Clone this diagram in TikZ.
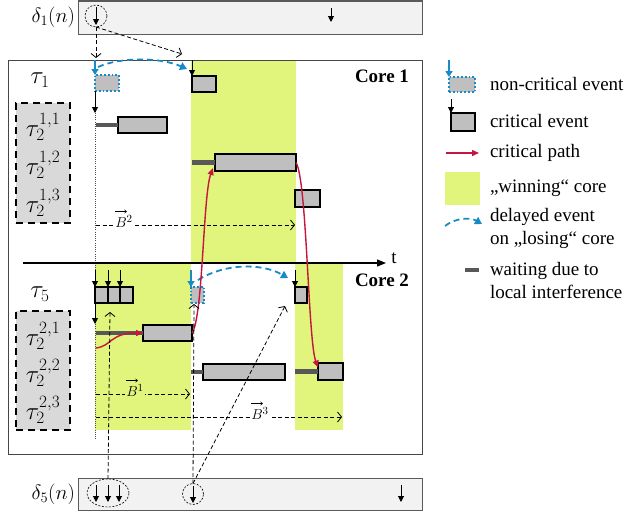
\documentclass[tikz,border=0pt]{standalone}
\usepackage{fontspec}
\setmainfont{Liberation Serif}
\usetikzlibrary{arrows.meta,shapes.geometric}
\definecolor{wingreen}{RGB}{225,244,124}
\definecolor{evblue}{RGB}{24,138,198}
\definecolor{cpred}{RGB}{196,22,62}
\definecolor{evgray}{RGB}{191,191,191}
\definecolor{waitgray}{RGB}{88,88,88}
\definecolor{lblgray}{RGB}{217,217,217}
\definecolor{bargray}{RGB}{242,242,242}
\definecolor{bardraw}{RGB}{90,90,90}
\definecolor{framegray}{RGB}{70,70,70}
\begin{document}
\begin{tikzpicture}[x=1pt,y=-1pt,
  font=\fontsize{19}{23}\selectfont,
  every node/.style={inner sep=0pt, outer sep=0pt},
  evbox/.style={rectangle, draw=black, line width=1.8pt, fill=evgray, anchor=north west},
  ncbox/.style={rectangle, draw=evblue, line width=1.8pt, dotted, fill=evgray, anchor=north west},
  lblbox/.style={rectangle, draw=black, line width=2pt, dash pattern=on 7pt off 5pt, fill=lblgray, anchor=north west},
  deltabar/.style={rectangle, draw=bardraw, line width=1pt, fill=bargray, anchor=north west},
  waitbar/.style={waitgray, line width=4.5pt},
  evarrow/.style={line width=1pt, -{Triangle[length=6pt,width=6pt]}},
  bluearr/.style={evblue, line width=1.5pt, -{Triangle[length=6pt,width=7pt]}},
  bluedel/.style={evblue, line width=1.8pt, dash pattern=on 6pt off 4pt, -{Triangle[length=7pt,width=8pt]}},
  dasharrow/.style={line width=0.8pt, dash pattern=on 4pt off 2.5pt, -{Straight Barb[length=4pt,width=10pt]}},
  cpath/.style={cpred, line width=1.4pt, -{Triangle[length=7pt,width=6pt]}},
  dotline/.style={gray!60!black, line width=0.8pt, dash pattern=on 1pt off 1.2pt},
  evcircle/.style={draw, circle, dash pattern=on 2pt off 1.5pt, line width=0.6pt, minimum size=22pt},
  mathlbl/.style={font=\fontsize{23}{26}\selectfont},
  dlbl/.style={font=\fontsize{21}{24}\selectfont, anchor=east},
  blabel/.style={font=\fontsize{15}{17}\selectfont, inner xsep=1.5pt, inner ysep=0pt, text height=14pt, text depth=1pt},
  vecarrow/.style={line width=0.5pt, -{To[length=2.5pt,width=4pt]}},
  legtext/.style={anchor=west, align=left},
]
\useasboundingbox (0,0) rectangle (629,514);

% winning regions
\fill[wingreen] (191,60) rectangle (296,263);
\fill[wingreen] (95,264) rectangle (191,430);
\fill[wingreen] (295,264) rectangle (343,430);

% main frame
\node[draw=framegray, line width=1pt, rectangle, minimum width=414, minimum height=394, anchor=north west] (frame) at (8,60) {};

% delta 1 bar
\node[deltabar, minimum width=344, minimum height=33] (d1bar) at (78,1) {};
\node[dlbl] (d1lbl) at (75,17) {$\delta_1(n)$};
\node[evcircle] (d1circ) at (96,16) {};
\coordinate (d1a) at (96,7); \coordinate (d1b) at (96,25);
\draw[evarrow] (d1a) -- (d1b);
\coordinate (d1c) at (331,8); \coordinate (d1d) at (331,22);
\draw[evarrow] (d1c) -- (d1d);
\coordinate (c1in) at (96,58); \coordinate (c1in2) at (182,54);
\draw[dasharrow] (d1circ.south) -- (c1in);
\draw[dasharrow] (d1circ.south) -- (c1in2);

% vertical dotted release line
\coordinate (vtop) at (95,60); \coordinate (vbot) at (95,440);
\draw[dotline] (vtop) -- (vbot);

% time axis
\coordinate (ax0) at (23,263); \coordinate (ax1) at (386,263);
\draw[line width=1.2pt, -{Triangle[length=9pt,width=7pt]}] (ax0) -- (ax1);
\node (tlbl) at (394,258) {t};

% core labels
\node[anchor=east, font=\fontsize{19}{23}\selectfont\bfseries] (core1) at (409,76) {Core 1};
\node[anchor=east, font=\fontsize{19}{23}\selectfont\bfseries] (core2) at (409,280) {Core 2};

% ---------- Core 1 ----------
\node[mathlbl] (tau1) at (40,80) {$\tau_1$};
\node[lblbox, minimum width=54, minimum height=120] (L1) at (16,103) {};
\node[mathlbl] (t11) at (43,127) {$\tau_2^{1,1}$};
\node[mathlbl] (t12) at (43,165) {$\tau_2^{1,2}$};
\node[mathlbl] (t13) at (43,203) {$\tau_2^{1,3}$};

\node[ncbox, minimum width=24, minimum height=16] (n1) at (95,75) {};
\coordinate (n1top) at (95,60);
\draw[bluearr] (n1top) -- (n1.north west);
\node[evbox, minimum width=24, minimum height=16] (c1) at (192,76) {};
\coordinate (c1top) at (192,60);
\draw[evarrow] (c1top) -- (c1.north west);
\coordinate (bd1s) at (98,67); \coordinate (bd1e) at (187,69);
\draw[bluedel] (bd1s) .. controls (120,57) and (160,57) .. (bd1e);
\coordinate (a1e) at (95,113);
\draw[evarrow] (n1.south west) -- (a1e);

\node[evbox, minimum width=49, minimum height=16] (b11) at (118,117) {};
\coordinate (w11) at (96,125);
\draw[waitbar] (w11) -- (b11.west);
\node[evbox, minimum width=81, minimum height=17] (b12) at (215,154) {};
\coordinate (w12) at (192,162.5);
\draw[waitbar] (w12) -- (b12.west);
\node[evbox, minimum width=25, minimum height=17] (b13) at (295,190) {};

\coordinate (B2s) at (96,225); \coordinate (B2e) at (295,225);
\draw[dasharrow] (B2s) -- (B2e);
\node[blabel, fill=white] (B2l) at (124,221) {$B^{2}$};
\draw[vecarrow] ([shift={(1.5,-2)}]B2l.north west) -- ([shift={(13,-2)}]B2l.north west);

% ---------- Core 2 ----------
\node[mathlbl] (tau5) at (40,294) {$\tau_5$};
\node[lblbox, minimum width=54, minimum height=119] (L2) at (16,311) {};
\node[mathlbl] (t21) at (43,336) {$\tau_2^{2,1}$};
\node[mathlbl] (t22) at (43,373) {$\tau_2^{2,2}$};
\node[mathlbl] (t23) at (43,410) {$\tau_2^{2,3}$};

\node[evbox, minimum width=13, minimum height=16] (t5a) at (95,287) {};
\node[evbox, minimum width=12, minimum height=16] (t5b) at (108,287) {};
\node[evbox, minimum width=13, minimum height=16] (t5c) at (120,287) {};
\coordinate (t5at) at (95,270); \coordinate (t5bt) at (108,270); \coordinate (t5ct) at (120,270);
\draw[evarrow] (t5at) -- (t5a.north west);
\draw[evarrow] (t5bt) -- (t5b.north west);
\draw[evarrow] (t5ct) -- (t5c.north west);
\coordinate (a2e) at (95,324);
\draw[evarrow] (t5a.south west) -- (a2e);

\node[ncbox, minimum width=13, minimum height=16] (n2) at (191,287) {};
\coordinate (n2top) at (191,270);
\draw[bluearr] (n2top) -- (n2.north west);
\node[evbox, minimum width=12, minimum height=16] (c2) at (295,287) {};
\coordinate (c2top) at (295,270);
\draw[evarrow] (c2top) -- (c2.north west);
\coordinate (bd2s) at (198,280); \coordinate (bd2e) at (288,278);
\draw[bluedel] (bd2s) .. controls (225,263) and (262,263) .. (bd2e);

\node[evbox, minimum width=49, minimum height=16] (b21) at (143,325) {};
\coordinate (w21) at (96,333);
\draw[waitbar] (w21) -- (b21.west);
\node[evbox, minimum width=82, minimum height=16] (b22) at (203,364) {};
\coordinate (w22) at (191,372);
\draw[waitbar] (w22) -- (b22.west);
\node[evbox, minimum width=25, minimum height=17] (b23) at (318,363) {};
\coordinate (w23) at (295,371.5);
\draw[waitbar] (w23) -- (b23.west);

\coordinate (B1s) at (96,394); \coordinate (B1e) at (190,394);
\draw[dasharrow] (B1s) -- (B1e);
\node[blabel, fill=wingreen] (B1l) at (135,390) {$B^{1}$};
\draw[vecarrow] ([shift={(1.5,-2)}]B1l.north west) -- ([shift={(13,-2)}]B1l.north west);
\coordinate (B3s) at (96,417); \coordinate (B3e) at (342,417);
\draw[dasharrow] (B3s) -- (B3e);
\node[blabel, fill=white] (B3l) at (260,413) {$B^{3}$};
\draw[vecarrow] ([shift={(1.5,-2)}]B3l.north west) -- ([shift={(13,-2)}]B3l.north west);

% critical path
\coordinate (cp3s) at (96,348);
\draw[cpath] (cp3s) .. controls (112,346) and (110,333) .. (b21.west);
\draw[cpath] (b21.east) .. controls (203,318) and (203,195) .. ([shift={(-2,-3)}]b12.south west);
\draw[cpath] (b12.east) .. controls (307,180) and (308,340) .. ([shift={(0,-4)}]b23.west);

% delta 5 bar
\node[deltabar, minimum width=344, minimum height=32] (d5bar) at (78,478) {};
\node[dlbl] (d5lbl) at (75,494) {$\delta_5(n)$};
\node[draw, ellipse, dash pattern=on 2pt off 1.5pt, line width=0.6pt, minimum width=42, minimum height=28] (d5ell) at (108,493) {};
\foreach \xx/\nm in {96/ea,108/eb,119/ec}{
  \coordinate (\nm s) at (\xx,485); \coordinate (\nm e) at (\xx,502);
  \draw[evarrow] (\nm s) -- (\nm e);
}
\node[evcircle, minimum size=21] (d5circ) at (193,494) {};
\coordinate (d5a) at (193,486); \coordinate (d5b) at (193,503);
\draw[evarrow] (d5a) -- (d5b);
\coordinate (d5c) at (401,485); \coordinate (d5d) at (401,502);
\draw[evarrow] (d5c) -- (d5d);
\coordinate (e1) at (110,312); \coordinate (e2) at (194,304); \coordinate (e3) at (285,306);
\draw[dasharrow] (d5ell.north) -- (e1);
\draw[dasharrow] (d5circ.north) -- (e2);
\draw[dasharrow] (d5circ.north) -- (e3);

% ---------- Legend ----------
\node[ncbox, minimum width=26, minimum height=15] (lg1) at (449,77) {};
\coordinate (lg1t) at (449,60);
\draw[bluearr] (lg1t) -- (lg1.north west);
\node[legtext] (lg1txt) at (490,84) {non-critical event};

\node[evbox, minimum width=24, minimum height=18] (lg2) at (451,113) {};
\coordinate (lg2t) at (451,99);
\draw[evarrow] (lg2t) -- (lg2.north west);
\node[legtext] (lg2txt) at (490,121) {critical event};

\coordinate (lg3s) at (446,153); \coordinate (lg3e) at (479,153);
\draw[cpath] (lg3s) -- (lg3e);
\node[legtext] (lg3txt) at (490,153) {critical path};

\node[rectangle, fill=wingreen, minimum width=35, minimum height=33, anchor=north west] (lg4) at (445,172) {};
\node[legtext] (lg4txt) at (490,188) {„winning“ core};

\coordinate (lg5s) at (445,226); \coordinate (lg5e) at (482,224);
\draw[bluedel] (lg5s) .. controls (455,218) and (470,217) .. (lg5e);
\node[legtext] (lg5txt) at (490,228) {delayed event\\on „losing“ core};

\coordinate (lg6s) at (465,270); \coordinate (lg6e) at (479,270);
\draw[waitbar] (lg6s) -- (lg6e);
\node[legtext] (lg6txt) at (490,280) {waiting due to\\local interference};
\end{tikzpicture}
\end{document}
